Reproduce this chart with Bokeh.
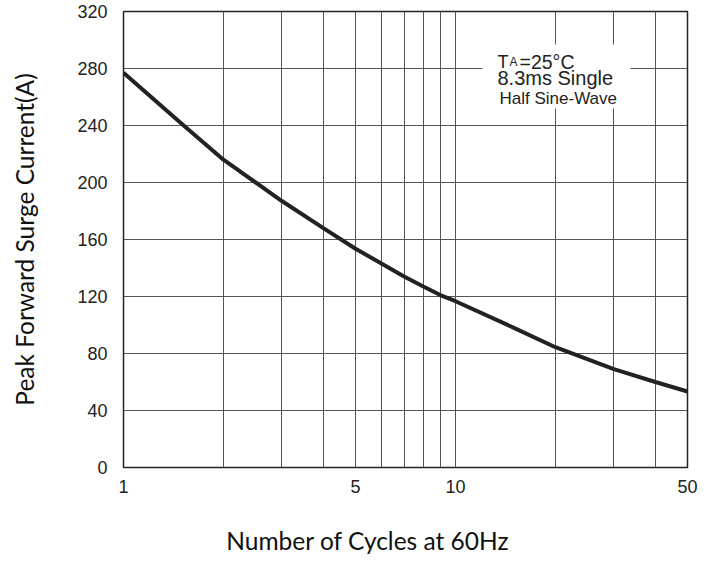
import math
from bokeh.plotting import figure
from bokeh.models import FixedTicker, Label, BoxAnnotation, CustomJSTickFormatter
from bokeh.embed import file_html
from bokeh.resources import INLINE

# Data
cycles = [1, 1.5, 2, 3, 4, 5, 6, 7, 8, 9, 10, 15, 20, 30, 40, 50]
current = [277, 241, 216, 187, 168, 153.5, 143, 134, 127, 121, 116.7, 98, 84.4, 69, 60, 53.3]

x_tick_labels = [1, 5, 10, 50]
x_grid = [1, 2, 3, 4, 5, 6, 7, 8, 9, 10, 20, 30, 40, 50]
y_ticks = [0, 40, 80, 120, 160, 200, 240, 280, 320]

p = figure(width=704, height=557, x_axis_type="log", x_range=(1, 50), y_range=(0, 320),
           output_backend="svg", toolbar_location=None,
           min_border_left=123, min_border_right=17, min_border_top=11, min_border_bottom=90)
p.background_fill_color = "white"
p.border_fill_color = "white"
p.outline_line_color = "#222222"
p.outline_line_width = 1.5

# grids
p.xgrid.ticker = FixedTicker(ticks=x_grid)
p.ygrid.ticker = FixedTicker(ticks=y_ticks)
for g in (p.xgrid, p.ygrid):
    g.grid_line_color = "#555555"
    g.grid_line_width = 1
    g.grid_line_alpha = 1

# axes
p.xaxis.ticker = FixedTicker(ticks=x_tick_labels)
p.yaxis.ticker = FixedTicker(ticks=y_ticks)
p.xaxis.formatter = CustomJSTickFormatter(code="return String(tick);")
for ax in (p.xaxis, p.yaxis):
    ax.axis_line_color = None
    ax.major_tick_line_color = None
    ax.minor_tick_line_color = None
    ax.major_label_text_font = "Liberation Sans"
    ax.major_label_text_font_size = "18px"
    ax.major_label_text_color = "#222222"
    ax.axis_label_text_font = "Lato"
    ax.axis_label_text_font_size = "24.5px"
    ax.axis_label_text_font_style = "normal"
    ax.axis_label_text_color = "#111111"
p.xaxis.major_label_standoff = 6
p.yaxis.major_label_standoff = 10

p.yaxis.axis_label = "Peak Forward Surge Current(A)"
p.yaxis.axis_label_standoff = 35

# x label: trailing no-break spaces shift the centred label left like the reference
p.xaxis.axis_label = "Number of Cycles at 60Hz" + "\u00a0" * 12
p.xaxis.axis_label_standoff = 30

# curve
p.line(cycles, current, line_width=4, line_color="#222222")

# annotation box
box = BoxAnnotation(left=359, right=507, bottom=359, top=423,
                    left_units="screen", right_units="screen",
                    bottom_units="screen", top_units="screen",
                    fill_color="white", fill_alpha=1, line_color=None)
p.add_layout(box)

def lab(text, x, y, size):
    p.add_layout(Label(x=x, y=y, x_units="screen", y_units="screen", text=text,
                       text_font="Liberation Sans", text_font_size=size,
                       text_color="#222222", text_baseline="alphabetic"))

lab("T", 374, 406, "18px")
lab("A", 386, 406, "12px")
lab("=25°C", 396, 406, "19.5px")
lab("8.3ms  Single", 374, 390, "20px")
lab("Half Sine-Wave", 376, 369, "17px")

open("out.html", "w").write(file_html(p, INLINE))
